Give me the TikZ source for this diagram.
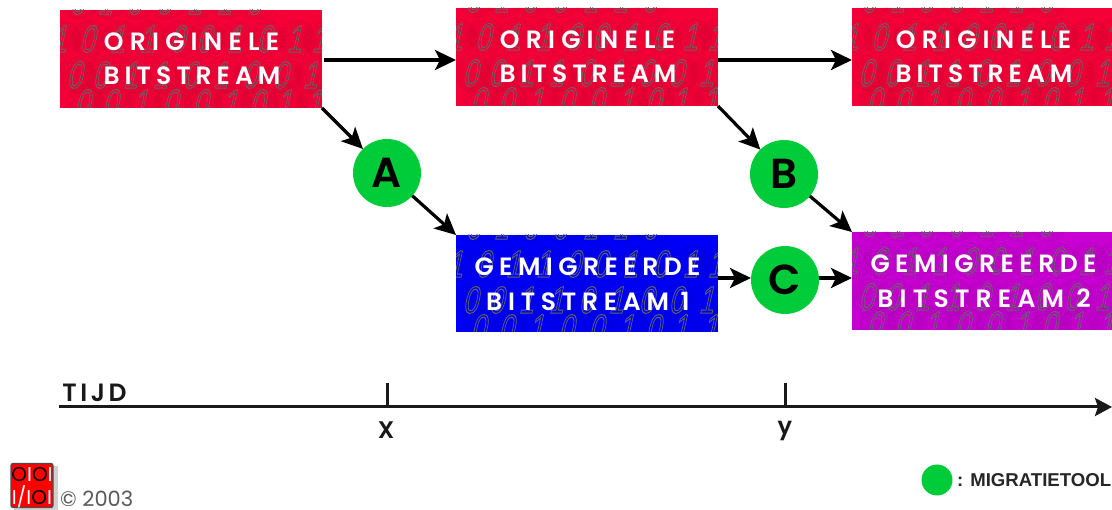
\documentclass[tikz,border=0pt]{standalone}
\usepackage{fontspec}
\usetikzlibrary{arrows.meta,calc,shadows}
\setmainfont{Poppins}
\newfontfamily\boxfont{Poppins SemiBold}
\newfontfamily\tfont[LetterSpace=14]{Poppins SemiBold}
\newfontfamily\circfont{Poppins SemiBold}
\newfontfamily\digfont{Liberation Sans}
\newfontfamily\legfont{Liberation Sans Bold}
\definecolor{bred}{RGB}{245,0,55}
\definecolor{bblue}{RGB}{0,0,250}
\definecolor{bpurple}{RGB}{200,0,210}
\definecolor{tgreen}{RGB}{0,204,58}
\newcommand{\ls}[2]{\addfontfeature{LetterSpace=#1}#2}
\newcommand{\hollow}[1]{\special{pdf:code 1 Tr 1 w}#1\special{pdf:code 0 Tr 1 w}}
\newcommand{\digitrow}[3]{% prefix, rel y, list
  \foreach \dx/\dd [count=\di] in {#3} {
    \fill[black,opacity=.035] ($(#1.north west)+(\dx,#2)$) circle (19);
    \node[digit] (#1-r#2-\di) at ($(#1.north west)+(\dx,#2)$) {\hollow{\dd}};
  }}
\newcommand{\bitbox}[8]{% name,x,y,w,h,colour,line1,line2
  \node[bitrect,fill=#6,minimum width=#4,minimum height=#5] (#1) at (#2+#4/2,#3+#5/2) {};
  \begin{scope}
    \clip (#2,#3) rectangle (#2+#4,#3+#5);
    \digitrow{#1}{-9}{20/0,48/1,77/0,107/0,137/1,167/1,197/0}
    \digitrow{#1}{29}{2/1,30/0,60/1,90/1,120/0,147/0,177/1,207/0,237/1,262/1}
    \digitrow{#1}{65}{17/0,43/0,73/1,103/1,133/0,163/1,193/0,223/0,253/1}
    \digitrow{#1}{93}{25/0,53/0,83/1,113/0,143/0,173/1,200/0,227/1,257/1}
  \end{scope}
  \node[boxtext] (#1-a) at (#2+131.5,#3+32) {#7};
  \node[boxtext] (#1-b) at (#2+132,#3+66) {#8};
}
\tikzset{
  x=1pt,y=-1pt,
  bitrect/.style={rectangle,inner sep=0pt,outer sep=0pt,draw=none},
  digit/.style={inner sep=0pt,text=black!60,font=\digfont\fontsize{38}{38}\selectfont,xscale=.7,xslant=.32},
  boxtext/.style={inner sep=0pt,text=white,font=\boxfont\fontsize{25}{25}\selectfont},
  tool/.style={circle,fill=tgreen,minimum size=68pt,inner sep=0pt,outer sep=0pt,text=black,font=\circfont\fontsize{42}{42}\selectfont},
  conn/.style={line width=3.2pt,-{Stealth[length=21pt,width=20pt,inset=5pt]}},
  axis/.style={line width=3pt,draw=black!90},
  tick/.style={line width=3pt,draw=black!90},
  axlabel/.style={inner sep=0pt,text=black!90,font=\circfont\fontsize{24}{24}\selectfont},
}
\begin{document}
\begin{tikzpicture}
\useasboundingbox (0,0) rectangle (1112,510);
\fill[white] (0,0) rectangle (1112,510);
\bitbox{bA}{60}{10}{262}{98}{bred}{\ls{25}{ORIGINELE}}{\ls{20}{BITSTREAM}}
\bitbox{bB}{456}{8}{262}{98}{bred}{\ls{25}{ORIGINELE}}{\ls{20}{BITSTREAM}}
\bitbox{bC}{852}{8}{260}{98}{bred}{\ls{25}{ORIGINELE}}{\ls{20}{BITSTREAM}}
\bitbox{bD}{456}{235}{262}{97}{bblue}{\ls{22}{GEMIGREERDE}}{\ls{23}{BITSTREAM 1}}
\bitbox{bE}{852}{232}{260}{98}{bpurple}{\ls{22}{GEMIGREERDE}}{\ls{25}{BITSTREAM 2}}
\node[tool] (tA) at (387,173) {A};
\node[tool] (tB) at (784,174) {B};
\node[tool] (tC) at (785,280) {C};
\coordinate (aB) at ($(bB.west)+(0,3)$);
\coordinate (aC) at ($(bC.west)+(0,3)$);
\draw[conn] ($(bA.east)+(2,1)$) -- (aB);
\draw[conn] ($(bB.east)+(0,3)$) -- (aC);
\draw[conn] (bA.south east) -- (tA);
\draw[conn] (tA) -- (bD.north west);
\draw[conn] (bB.south east) -- (tB);
\draw[conn] (tB) -- (bE.north west);
\coordinate (cL) at (bD.east |- tC.west);
\coordinate (cR) at (bE.west |- tC.east);
\draw[conn] ($(cL)+(0,-2)$) -- ($(tC.west)+(0,-2)$);
\draw[conn] ($(tC.east)+(0,-2)$) -- ($(cR)+(0,-2)$);
% time axis
\coordinate (ax0) at (59,407);
\coordinate (ax1) at (1112,407);
\coordinate (tx) at (387,383);
\coordinate (ty) at (785,383);
\draw[axis,-{Stealth[length=17pt,width=18pt,inset=3pt]}] (ax0) -- (ax1);
\draw[tick] (tx) -- (tx |- ax0);
\draw[tick] (ty) -- (ty |- ax0);
\node[inner sep=0pt,text=black!90,font=\tfont\fontsize{25}{25}\selectfont] (tijd) at (94.5,393) {TIJD};
\node[axlabel] (lx) at (386,430) {X};
\node[axlabel] (ly) at (785,431) {y};
% logo
\fill[black,opacity=.18] (14,466) rectangle (58,510);
\node[draw=black!70,line width=1.2pt,fill=red,rounded corners=2pt,minimum width=42pt,minimum height=44pt,inner sep=0pt] (logo) at (32,485.5) {};
\node[inner sep=0pt,font=\fontsize{20}{20}\selectfont] (logoa) at (32,474.5) {\textcolor{black}{O}\textcolor{white}{I}\textcolor{black}{O}\textcolor{white}{I}};
\node[inner sep=0pt,font=\fontsize{20}{20}\selectfont] (logob) at (32,497) {\textcolor{white}{I/I}\textcolor{black}{O}\textcolor{white}{I}};
\node[inner sep=0pt,text=black!65,font=\fontsize{21}{21}\selectfont,anchor=west] (copy) at (60,499) {© 2003};
% legend
\node[circle,fill=tgreen,minimum size=31pt,inner sep=0pt] (leg) at (937,480) {};
\node[inner sep=0pt,anchor=west,text=black!85,font=\legfont\fontsize{18.6}{18.6}\selectfont] (legt) at (957,480) {: MIGRATIETOOL};
\end{tikzpicture}
\end{document}
